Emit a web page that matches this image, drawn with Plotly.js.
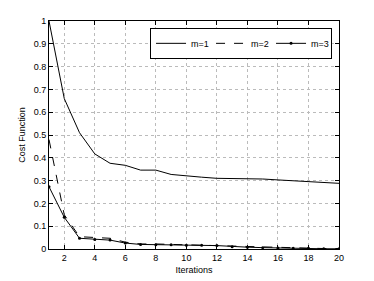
<!DOCTYPE html>
<html><head><meta charset="utf-8">
<script src="https://cdn.plot.ly/plotly-3.0.1.min.js"></script>
<style>html,body{margin:0;padding:0;background:#fff}#c{width:374px;height:281px}</style>
</head><body><div id="c"></div>
<script>
const iterations = [1,2,3,4,5,6,7,8,9,10,11,12,13,14,15,16,17,18,19,20];
const m1 = [1.0,0.66,0.51,0.417,0.376,0.367,0.346,0.346,0.327,0.32,0.315,0.31,0.31,0.31,0.307,0.303,0.30,0.297,0.292,0.288];
const m2 = [0.48,0.15,0.054,0.05,0.047,0.03,0.022,0.022,0.02,0.018,0.017,0.015,0.012,0.01,0.008,0.006,0.005,0.004,0.002,0.002];
const m3 = [0.273,0.139,0.047,0.042,0.039,0.026,0.02,0.019,0.019,0.016,0.016,0.015,0.01,0.008,0.006,0.004,0.003,0.003,0.001,0.001];
const names = ['m=1','m=2','m=3'];
const font = {family:'Liberation Sans, Arial, sans-serif', size:9, color:'#000'};
const traces = [
  {x:iterations, y:m1, name:names[0], mode:'lines', line:{color:'#000', width:1}},
  {x:iterations, y:m2, name:names[1], mode:'lines', line:{color:'#000', width:1, dash:'dash'}},
  {x:iterations, y:m3, name:names[2], mode:'lines+markers', line:{color:'#000', width:1}, marker:{color:'#000', size:3}}
];
const axisCommon = {showline:true, linecolor:'#000', linewidth:1, mirror:'ticks', ticks:'inside', ticklen:4, tickcolor:'#000',
  showgrid:true, gridcolor:'#bbb', griddash:'dot', gridwidth:1, zeroline:false, tickfont:font};
const layout = {
  width:374, height:281, margin:{l:49, r:35, t:21, b:32},
  paper_bgcolor:'#fff', plot_bgcolor:'#fff', font:font, showlegend:true,
  xaxis:Object.assign({}, axisCommon, {range:[1,20], tickvals:[2,4,6,8,10,12,14,16,18,20], title:{text:'Iterations', font:font, standoff:4}}),
  yaxis:Object.assign({}, axisCommon, {range:[0,1], dtick:0.1, title:{text:'Cost Function', font:font, standoff:6}}),
  legend:{orientation:'h', x:0.976, xanchor:'right', y:0.97, yanchor:'top', bordercolor:'#000', borderwidth:1, bgcolor:'#fff', font:font,
    itemwidth:30, entrywidth:15, entrywidthmode:'pixels', tracegroupgap:0}
};
Plotly.newPlot('c', traces, layout, {staticPlot:true, displayModeBar:false});
</script></body></html>
